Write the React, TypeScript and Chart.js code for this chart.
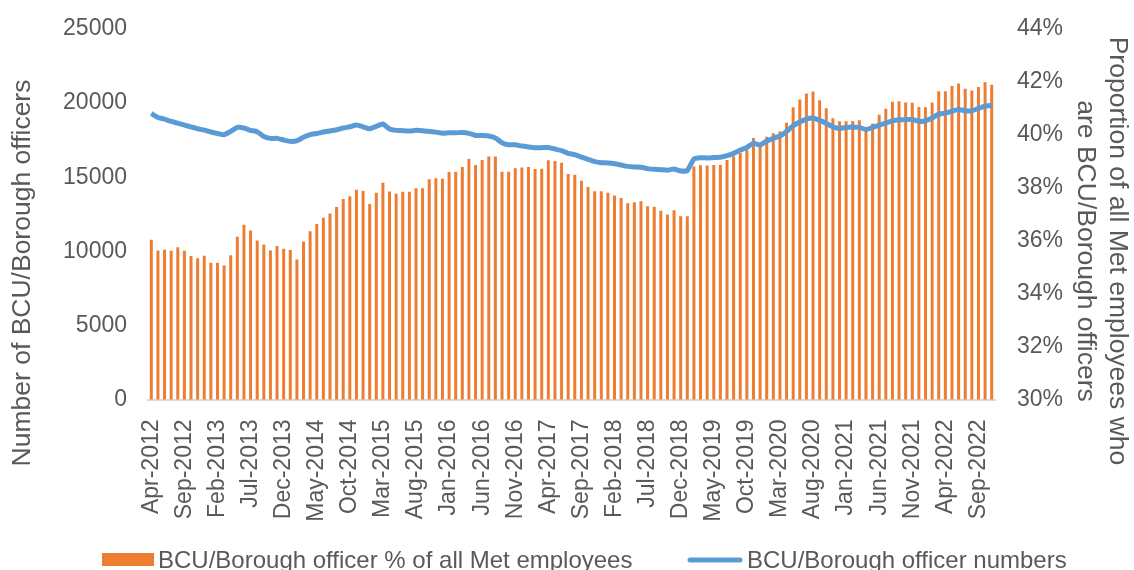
import React, { useEffect, useRef } from 'react';
import { Chart, registerables } from 'chart.js';

Chart.register(...registerables);

const categories: string[] = [
  'Apr-2012', 'May-2012', 'Jun-2012', 'Jul-2012', 'Aug-2012', 'Sep-2012', 'Oct-2012', 'Nov-2012', 'Dec-2012',
  'Jan-2013', 'Feb-2013', 'Mar-2013', 'Apr-2013', 'May-2013', 'Jun-2013', 'Jul-2013', 'Aug-2013', 'Sep-2013', 'Oct-2013', 'Nov-2013', 'Dec-2013',
  'Jan-2014', 'Feb-2014', 'Mar-2014', 'Apr-2014', 'May-2014', 'Jun-2014', 'Jul-2014', 'Aug-2014', 'Sep-2014', 'Oct-2014', 'Nov-2014', 'Dec-2014',
  'Jan-2015', 'Feb-2015', 'Mar-2015', 'Apr-2015', 'May-2015', 'Jun-2015', 'Jul-2015', 'Aug-2015', 'Sep-2015', 'Oct-2015', 'Nov-2015', 'Dec-2015',
  'Jan-2016', 'Feb-2016', 'Mar-2016', 'Apr-2016', 'May-2016', 'Jun-2016', 'Jul-2016', 'Aug-2016', 'Sep-2016', 'Oct-2016', 'Nov-2016', 'Dec-2016',
  'Jan-2017', 'Feb-2017', 'Mar-2017', 'Apr-2017', 'May-2017', 'Jun-2017', 'Jul-2017', 'Aug-2017', 'Sep-2017', 'Oct-2017', 'Nov-2017', 'Dec-2017',
  'Jan-2018', 'Feb-2018', 'Mar-2018', 'Apr-2018', 'May-2018', 'Jun-2018', 'Jul-2018', 'Aug-2018', 'Sep-2018', 'Oct-2018', 'Nov-2018', 'Dec-2018',
  'Jan-2019', 'Feb-2019', 'Mar-2019', 'Apr-2019', 'May-2019', 'Jun-2019', 'Jul-2019', 'Aug-2019', 'Sep-2019', 'Oct-2019', 'Nov-2019', 'Dec-2019',
  'Jan-2020', 'Feb-2020', 'Mar-2020', 'Apr-2020', 'May-2020', 'Jun-2020', 'Jul-2020', 'Aug-2020', 'Sep-2020', 'Oct-2020', 'Nov-2020', 'Dec-2020',
  'Jan-2021', 'Feb-2021', 'Mar-2021', 'Apr-2021', 'May-2021', 'Jun-2021', 'Jul-2021', 'Aug-2021', 'Sep-2021', 'Oct-2021', 'Nov-2021', 'Dec-2021',
  'Jan-2022', 'Feb-2022', 'Mar-2022', 'Apr-2022', 'May-2022', 'Jun-2022', 'Jul-2022', 'Aug-2022', 'Sep-2022', 'Oct-2022', 'Nov-2022',
];

// BCU/Borough officer % of all Met employees (right axis)
const officerShare: number[] = [
  36.04, 35.63, 35.66, 35.62, 35.75, 35.62, 35.42, 35.34, 35.43,
  35.17, 35.17, 35.06, 35.45, 36.15, 36.60, 36.39, 36.01, 35.86, 35.63, 35.80, 35.70,
  35.65, 35.29, 35.97, 36.36, 36.63, 36.87, 37.03, 37.27, 37.58, 37.68, 37.93, 37.88,
  37.39, 37.81, 38.19, 37.86, 37.77, 37.85, 37.85, 37.98, 37.98, 38.32, 38.36, 38.34,
  38.60, 38.61, 38.79, 39.09, 38.86, 39.05, 39.18, 39.18, 38.61, 38.61, 38.74, 38.77,
  38.79, 38.71, 38.72, 39.04, 39.01, 38.95, 38.52, 38.49, 38.27, 38.03, 37.87, 37.87,
  37.81, 37.71, 37.61, 37.42, 37.45, 37.49, 37.30, 37.28, 37.13, 36.99, 37.15, 36.92,
  36.92, 38.80, 38.85, 38.84, 38.86, 38.86, 39.05, 39.19, 39.31, 39.43, 39.88, 39.68,
  39.93, 40.06, 40.13, 40.46, 41.04, 41.34, 41.56, 41.64, 41.31, 41.01, 40.63, 40.51,
  40.51, 40.52, 40.55, 40.22, 40.43, 40.76, 40.99, 41.25, 41.27, 41.22, 41.21, 41.05,
  41.04, 41.22, 41.65, 41.65, 41.85, 41.94, 41.74, 41.68, 41.81, 41.99, 41.89,
];

// BCU/Borough officer numbers (left axis)
const officerNumbers: number[] = [
  19300, 19030, 18920, 18760, 18650, 18520, 18390, 18270, 18180,
  18050, 17950, 17870, 18090, 18360, 18320, 18160, 18070, 17750, 17620, 17620, 17510,
  17420, 17460, 17690, 17870, 17950, 18050, 18120, 18200, 18320, 18400, 18520, 18400,
  18270, 18430, 18590, 18250, 18160, 18140, 18120, 18160, 18140, 18090, 18040, 17960,
  18000, 18000, 18020, 17960, 17820, 17820, 17780, 17640, 17330, 17190, 17190, 17100,
  17040, 16990, 16990, 17010, 16900, 16790, 16610, 16520, 16360, 16210, 16050, 15980,
  15960, 15910, 15820, 15730, 15690, 15670, 15580, 15530, 15510, 15470, 15560, 15420,
  15440, 16230, 16310, 16300, 16330, 16340, 16450, 16610, 16830, 17010, 17300, 17170,
  17440, 17620, 17780, 18090, 18470, 18720, 18920, 18990, 18830, 18630, 18400, 18290,
  18360, 18380, 18360, 18220, 18360, 18520, 18650, 18810, 18880, 18880, 18900, 18760,
  18810, 18990, 19260, 19320, 19460, 19570, 19480, 19480, 19640, 19790, 19840,
];

const leftTicks = { min: 0, max: 25000, step: 5000 };
const rightTicks = { min: 30, max: 44, step: 2 };

const barLabel = 'BCU/Borough officer % of all Met employees';
const lineLabel = 'BCU/Borough officer numbers';
const leftTitle = 'Number of BCU/Borough officers';
const rightTitleLines = ['Proportion of all Met employees who', 'are BCU/Borough officers'];

const ORANGE = '#ED7D31';
const BLUE = '#5B9BD5';
const TEXT = '#595959';
const FONT = '"Liberation Sans", Arial, Helvetica, sans-serif';

const decorPlugin = {
  id: 'decor',
  afterDraw(chart: any) {
    const ctx = chart.ctx as CanvasRenderingContext2D;
    ctx.save();
    ctx.fillStyle = TEXT;
    ctx.textAlign = 'center';
    ctx.textBaseline = 'middle';
    ctx.font = `26.5px ${FONT}`;
    ctx.save();
    ctx.translate(23, 273);
    ctx.rotate(-Math.PI / 2);
    ctx.fillText(leftTitle, 0, 0);
    ctx.restore();
    ctx.save();
    ctx.translate(1117, 251);
    ctx.rotate(Math.PI / 2);
    ctx.fillText(rightTitleLines[0], 0, 0);
    ctx.restore();
    ctx.save();
    ctx.translate(1085, 251);
    ctx.rotate(Math.PI / 2);
    ctx.fillText(rightTitleLines[1], 0, 0);
    ctx.restore();

    ctx.font = `24px ${FONT}`;
    ctx.textAlign = 'left';
    ctx.fillStyle = ORANGE;
    ctx.fillRect(102, 553, 52, 13);
    ctx.fillStyle = TEXT;
    ctx.fillText(barLabel, 158, 561);
    ctx.strokeStyle = BLUE;
    ctx.lineWidth = 5;
    ctx.lineCap = 'round';
    ctx.beginPath();
    ctx.moveTo(690, 560);
    ctx.lineTo(740, 560);
    ctx.stroke();
    ctx.fillText(lineLabel, 747, 561);
    ctx.restore();
  },
};

export default function App() {
  const ref = useRef<HTMLCanvasElement | null>(null);

  useEffect(() => {
    if (!ref.current) return;
    const chart = new Chart(ref.current, {
      type: 'bar',
      data: {
        labels: categories,
        datasets: [
          {
            type: 'line',
            label: lineLabel,
            data: officerNumbers,
            yAxisID: 'y',
            borderColor: BLUE,
            backgroundColor: BLUE,
            borderWidth: 5,
            pointRadius: 0,
            tension: 0.15,
            order: 0,
          } as any,
          {
            type: 'bar',
            label: barLabel,
            data: officerShare,
            yAxisID: 'y1',
            backgroundColor: ORANGE,
            categoryPercentage: 1,
            barPercentage: 0.45,
            order: 1,
          } as any,
        ],
      },
      options: {
        responsive: false,
        animation: false,
        devicePixelRatio: 1,
        layout: { padding: { top: 29, bottom: 0, left: 0, right: 0 } },
        plugins: {
          legend: { display: false },
          tooltip: { enabled: false },
        },
        scales: {
          x: {
            grid: { display: false },
            border: { display: true, color: '#D9D9D9', width: 2 },
            ticks: {
              autoSkip: false,
              maxRotation: 90,
              minRotation: 90,
              padding: 12,
              color: TEXT,
              font: { family: FONT, size: 23 },
              callback: (_v: any, i: number) => (i % 5 === 0 ? categories[i] : ''),
            },
            afterFit: (s: any) => {
              s.height = 170.5;
            },
          },
          y: {
            position: 'left',
            min: leftTicks.min,
            max: leftTicks.max,
            grid: { display: false, drawTicks: false },
            border: { display: false },
            ticks: {
              stepSize: leftTicks.step,
              padding: 21,
              color: TEXT,
              font: { family: FONT, size: 23 },
              callback: (v: any) => String(v),
            },
            afterFit: (s: any) => {
              s.width = 148;
              s.paddingTop = 0;
              s.paddingBottom = 0;
            },
          },
          y1: {
            position: 'right',
            min: rightTicks.min,
            max: rightTicks.max,
            grid: { display: false, drawTicks: false },
            border: { display: false },
            ticks: {
              stepSize: rightTicks.step,
              padding: 22,
              color: TEXT,
              font: { family: FONT, size: 23 },
              callback: (v: any) => `${v}%`,
            },
            afterFit: (s: any) => {
              s.width = 139;
              s.paddingTop = 0;
              s.paddingBottom = 0;
            },
          },
        },
      },
      plugins: [decorPlugin],
    });
    return () => chart.destroy();
  }, []);

  return (
    <div style={{ position: 'absolute', left: 0, top: 0, width: 1134, height: 570, background: '#fff' }}>
      <canvas ref={ref} width={1134} height={570} style={{ display: 'block' }} />
    </div>
  );
}
